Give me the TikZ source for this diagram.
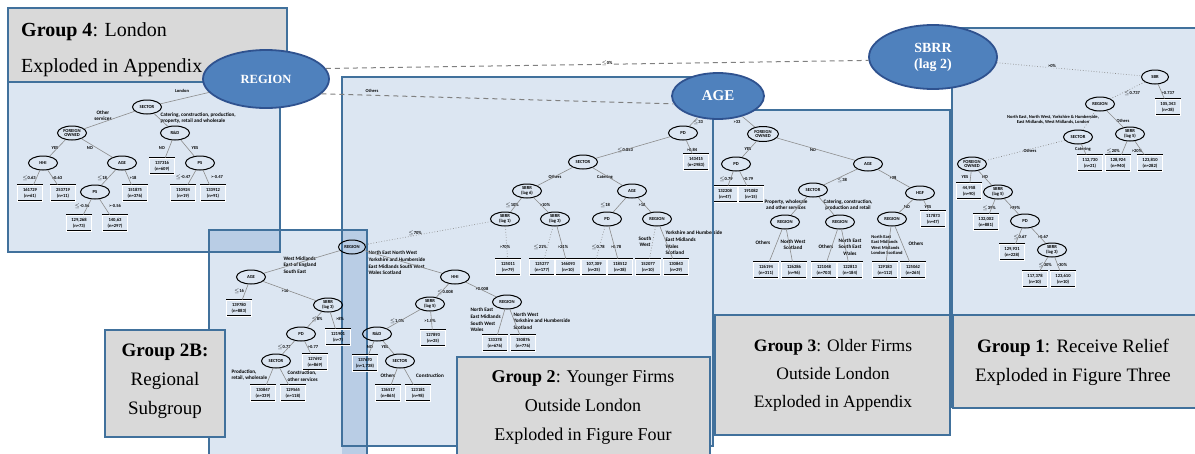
\documentclass[tikz,border=0pt]{standalone}
\usepackage{fontspec}
\setmainfont{Liberation Serif}
\newfontfamily\smf{Carlito}
\usetikzlibrary{shapes.geometric}
\definecolor{panelfill}{HTML}{DCE6F2}
\definecolor{overfill}{HTML}{B9CDE5}
\definecolor{panelline}{HTML}{41719C}
\definecolor{headfill}{HTML}{D9D9D9}
\definecolor{bigfill}{HTML}{4F81BD}
\definecolor{bigline}{HTML}{2F528F}
\definecolor{edgecol}{HTML}{8C8C8C}
\tikzset{
 pborder/.style={draw=panelline, line width=1.1pt},
 head/.style={fill=headfill, draw=panelline, line width=1.1pt},
 headtxt/.style={align=center, inner sep=0pt},
 ell/.style={ellipse, draw=black, line width=1pt, inner sep=0pt, minimum width=29pt, minimum height=14pt, align=center, font=\smf\bfseries\fontsize{4.6}{4.9}\selectfont},
 bx/.style={draw=black, double=white, double distance=0.5pt, line width=0.6pt, inner sep=0.6pt, minimum width=25pt, minimum height=16pt, align=center, font=\smf\bfseries\fontsize{4.6}{5.8}\selectfont},
 lab/.style={inner sep=0.3pt, align=center, font=\smf\bfseries\fontsize{5.2}{6.2}\selectfont},
 labl/.style={inner sep=0.3pt, align=left, anchor=west, font=\smf\bfseries\fontsize{5.2}{6.6}\selectfont},
 labsm/.style={inner sep=0.3pt, align=center, font=\smf\bfseries\fontsize{4.5}{5.2}\selectfont},
 edge/.style={draw=edgecol, line width=0.6pt},
 dedge/.style={draw=edgecol, line width=0.7pt, dotted},
 big/.style={ellipse, fill=bigfill, draw=bigline, line width=1.8pt, text=white, align=center, font=\bfseries},
 bigdash/.style={draw=gray, line width=1pt, dash pattern=on 5pt off 4pt},
}
\newcommand\mylab[3]{\node[lab] (#1) at (#2) {#3};}
\newcommand\mysm[3]{\node[labsm] (#1) at (#2) {#3};}
\newcommand\myedge[2]{\draw[edge] (#1) -- (#2);}
\begin{document}
\begin{tikzpicture}[x=1pt,y=-1pt]
\useasboundingbox (0,0) rectangle (1195,453);
% panels
\fill[panelfill] (8,82) rectangle (280,252);
\fill[panelfill] (209,230) rectangle (367,460);
\fill[panelfill] (342,77) rectangle (713,446);
\fill[panelfill] (713,110) rectangle (950,315);
\fill[panelfill] (952,28) rectangle (1200,315);
\fill[overfill] (209,230) rectangle (280,252);
\fill[overfill] (342,230) rectangle (367,460);
\draw[pborder] (8,82) rectangle (280,252);
\draw[pborder] (209,230) rectangle (367,460);
\draw[pborder] (342,77) rectangle (713,446);
\draw[pborder] (713,110) rectangle (950,315);
\draw[pborder] (952,28) rectangle (1200,315);

% ===== Group 4 tree =====
\node[ell] (g4sec) at (147,107) {SECTOR};
\node[ell] (g4for) at (72,133) {FOREIGN\\OWNED};
\node[ell] (g4rd) at (175,133) {R\&D};
\node[ell] (g4hhi) at (43,163) {HHI};
\node[ell] (g4age) at (122,163) {AGE};
\node[bx] (g4b1) at (162,166) {137316\\(n=609)};
\node[ell] (g4ps2) at (200,163) {PS};
\node[bx] (g4b2) at (30,193) {161729\\(n=61)};
\node[bx] (g4b3) at (63,193) {253719\\(n=11)};
\node[ell] (g4ps) at (95,192) {PS};
\node[bx] (g4b4) at (135,193) {151875\\(n=376)};
\node[bx] (g4b5) at (183,193) {110924\\(n=19)};
\node[bx] (g4b6) at (213,193) {133912\\(n=91)};
\node[bx] (g4b7) at (79,223) {129,268\\(n=73)};
\node[bx] (g4b8) at (115,223) {140,63\\(n=297)};
\mysm{l401}{182,91}{London}
\mylab{l402}{103,116}{Other\\services}
\node[labl] (l403) at (160,118) {Catering, construction, production,\\property, retail and wholesale};
\mysm{l404}{55,148}{YES}
\mysm{l405}{90,148}{NO}
\mysm{l406}{162,148}{NO}
\mysm{l407}{195,148}{YES}
\mysm{l408}{29,178}{$\le$0.63}
\mysm{l409}{57,178}{>0.63}
\mysm{l410}{102,178}{$\le$18}
\mysm{l411}{133,178}{>18}
\mysm{l412}{183,177}{$\le$-0.47}
\mysm{l413}{217,177}{>-0.47}
\mysm{l414}{82,206}{$\le$-0.56}
\mysm{l415}{115,206}{>-0.56}
\myedge{g4sec}{g4for}
\myedge{g4sec}{g4rd}
\myedge{g4for}{g4hhi}
\myedge{g4for}{g4age}
\myedge{g4hhi}{g4b2}
\myedge{g4hhi}{g4b3}
\myedge{g4age}{g4ps}
\myedge{g4age}{g4b4}
\myedge{g4ps}{g4b7}
\myedge{g4ps}{g4b8}
\myedge{g4rd}{g4b1}
\myedge{g4rd}{g4ps2}
\myedge{g4ps2}{g4b5}
\myedge{g4ps2}{g4b6}

% ===== Middle tree (Group 2) =====
\node[ell] (mpd) at (683,133) {PD};
\node[bx] (mb1) at (696,162) {143415\\(n=2983)};
\node[ell] (msec) at (583,162) {SECTOR};
\node[ell] (ms6) at (527,191) {SBRR\\(lag 6)};
\node[ell] (mage) at (632,191) {AGE};
\node[ell] (ms1) at (505,219) {SBRR\\(lag 1)};
\node[ell] (ms3) at (555,219) {SBRR\\(lag 3)};
\node[ell] (mpd2) at (607,219) {PD};
\node[ell] (mreg2) at (657,219) {REGION};
\node[bx] (mb2) at (508,267) {125011\\(n=79)};
\node[bx] (mb3) at (542,267) {125277\\(n=177)};
\node[bx] (mb4) at (568,267) {146093\\(n=10)};
\node[bx] (mb5) at (594,267) {107,309\\(n=25)};
\node[bx] (mb6) at (620,267) {118512\\(n=38)};
\node[bx] (mb7) at (648,267) {152077\\(n=10)};
\node[bx] (mb8) at (676,267) {130843\\(n=29)};
\node[ell, minimum width=27pt] (mreg) at (352,247) {REGION};
\node[ell] (mhhi) at (455,277) {HHI};
\node[ell] (ms5) at (430,304) {SBRR\\(lag 5)};
\node[ell] (mreg3) at (507,302) {REGION};
\node[bx] (mb9) at (495,343) {133378\\(n=676)};
\node[bx] (mb10) at (523,343) {150876\\(n=776)};
\node[bx] (mb11) at (433,338) {127893\\(n=25)};
\node[ell] (mrd) at (377,334) {R\&D};
\node[bx] (mb12) at (365,363) {137670\\(n=1,738)};
\node[ell] (msec2) at (400,361) {SECTOR};
\node[bx] (mb13) at (388,393) {136517\\(n=865)};
\node[bx] (mb14) at (418,393) {123181\\(n=98)};
\mysm{lm01}{698,122}{$\le$33}
\mysm{lm02}{625,150}{$\le$0.853}
\mysm{lm03}{692,150}{>0.84}
\mysm{lm04}{555,177}{Others}
\mysm{lm05}{605,177}{Catering}
\mysm{lm06}{512,205}{$\le$10\%}
\mysm{lm07}{545,205}{>10\%}
\mysm{lm08}{605,205}{$\le$18}
\mysm{lm09}{642,205}{>18}
\mysm{lm10}{415,233}{$\le$70\%}
\mysm{lm11}{505,247}{>70\%}
\mysm{lm12}{540,247}{$\le$21\%}
\mysm{lm13}{563,247}{>21\%}
\mysm{lm14}{598,247}{$\le$0.78}
\mysm{lm15}{616,247}{>0.78}
\mylab{lm16}{645,242}{South\\West}
\node[labl] (lm17) at (665,243) {Yorkshire and Humberside\\East Midlands\\Wales\\Scotland};
\node[labl] (lm18) at (283,265) {West Midlands\\East of England\\South East};
\node[labl] (lm19) at (368,263) {North East North West\\Yorkshire and Humberside\\East Midlands South West\\Wales Scotland};
\mysm{lm20}{445,292}{$\le$0.008}
\mysm{lm21}{482,289}{>0.008}
\node[labl] (lm22) at (470,320) {North East\\East Midlands\\South West\\Wales};
\node[labl] (lm23) at (513,321) {North West\\Yorkshire and Humberside\\Scotland};
\mysm{lm24}{397,321}{$\le$1.0\%}
\mysm{lm25}{430,321}{>1.0\%}
\mysm{lm26}{370,347}{NO}
\mysm{lm27}{385,347}{YES}
\mylab{lm28}{388,376}{Others}
\mylab{lm29}{430,376}{Construction}
\myedge{mpd}{msec}
\myedge{mpd}{mb1}
\myedge{msec}{ms6}
\myedge{msec}{mage}
\myedge{ms6}{ms1}
\myedge{ms6}{ms3}
\draw[dedge] (ms1) -- (mreg);
\draw[dedge] (ms1) -- (mb2);
\draw[dedge] (ms3) -- (mb3);
\myedge{ms3}{mb4}
\myedge{mage}{mpd2}
\myedge{mage}{mreg2}
\draw[dedge] (mpd2) -- (mb5);
\myedge{mpd2}{mb6}
\draw[dedge] (mreg2) -- (mb7);
\myedge{mreg2}{mb8}
\myedge{mreg}{mhhi}
\myedge{mhhi}{ms5}
\myedge{mhhi}{mreg3}
\myedge{ms5}{mrd}
\myedge{ms5}{mb11}
\myedge{mrd}{mb12}
\myedge{mrd}{msec2}
\myedge{msec2}{mb13}
\myedge{msec2}{mb14}
\myedge{mreg3}{mb9}
\myedge{mreg3}{mb10}

% ===== Group 2B tree =====
\node[ell] (gbage) at (251,277) {AGE};
\node[bx] (gbb1) at (239,308) {139780\\(n=883)};
\node[ell] (gbs3) at (328,305) {SBRR\\(lag 3)};
\node[ell] (gbpd) at (301,334) {PD};
\node[bx] (gbb2) at (338,337) {121901\\(n=7)};
\node[ell] (gbsec) at (276,361) {SECTOR};
\node[bx] (gbb3) at (315,362) {127692\\(n=869)};
\node[bx] (gbb4) at (263,393) {130847\\(n=339)};
\node[bx] (gbb5) at (293,393) {129565\\(n=118)};
\mysm{lb01}{239,291}{$\le$16}
\mysm{lb02}{285,291}{>16}
\mysm{lb03}{317,319}{$\le$8\%}
\mysm{lb04}{340,319}{>8\%}
\mysm{lb05}{284,347}{$\le$0.77}
\mysm{lb06}{313,347}{>0.77}
\node[labl] (lb07) at (231,375) {Production,\\retail, wholesale};
\node[labl] (lb08) at (287,376) {Construction,\\other services};
\myedge{mreg}{gbage}
\myedge{gbage}{gbb1}
\myedge{gbage}{gbs3}
\myedge{gbs3}{gbpd}
\myedge{gbs3}{gbb2}
\myedge{gbpd}{gbsec}
\myedge{gbpd}{gbb3}
\myedge{gbsec}{gbb4}
\myedge{gbsec}{gbb5}

% ===== Group 3 tree =====
\node[ell, minimum width=31pt, minimum height=15pt] (g3for) at (763,134) {FOREIGN\\OWNED};
\node[ell] (g3pd) at (736,164) {PD};
\node[ell] (g3age) at (868,164) {AGE};
\node[bx] (g3b1) at (725,194) {132208\\(n=47)};
\node[bx] (g3b2) at (751,194) {191082\\(n=15)};
\node[ell] (g3sec) at (813,190) {SECTOR};
\node[ell] (g3hgf) at (920,193) {HGF};
\node[bx] (g3b3) at (933,219) {117873\\(n=47)};
\node[ell] (g3ra) at (785,222) {REGION};
\node[ell] (g3rb) at (840,222) {REGION};
\node[ell] (g3rc) at (892,219) {REGION};
\node[bx] (g3b4) at (766,270) {126194\\(n=311)};
\node[bx] (g3b5) at (794,270) {126286\\(n=96)};
\node[bx] (g3b6) at (824,270) {121048\\(n=703)};
\node[bx] (g3b7) at (850,270) {122813\\(n=184)};
\node[bx] (g3b8) at (885,270) {129183\\(n=112)};
\node[bx] (g3b9) at (913,270) {125062\\(n=265)};
\mysm{l301}{737,122}{>33}
\mysm{l302}{748,149}{YES}
\mysm{l303}{813,150}{NO}
\mysm{l304}{726,179}{$\le$0.79}
\mysm{l305}{748,179}{>0.79}
\mysm{l306}{842,180}{$\le$38}
\mysm{l307}{893,178}{>38}
\mylab{l308}{786,205}{Property, wholesale\\and other services}
\mylab{l309}{848,205}{Catering, construction,\\production and retail}
\mysm{l310}{907,207}{NO}
\mysm{l311}{928,207}{YES}
\mylab{l312}{763,243}{Others}
\mylab{l313}{793,245}{North West\\Scotland}
\mylab{l314}{826,247}{Others}
\mylab{l315}{850,247}{North East\\South East\\Wales}
\node[labsm, align=left] (l316) at (887,245) {North East\\East Midlands\\West Midlands\\London Scotland};
\mylab{l317}{916,244}{Others}
\myedge{g3for}{g3pd}
\myedge{g3for}{g3age}
\myedge{g3pd}{g3b1}
\myedge{g3pd}{g3b2}
\myedge{g3age}{g3sec}
\myedge{g3age}{g3hgf}
\myedge{g3sec}{g3ra}
\myedge{g3sec}{g3rb}
\myedge{g3ra}{g3b4}
\myedge{g3ra}{g3b5}
\myedge{g3rb}{g3b6}
\myedge{g3rb}{g3b7}
\myedge{g3hgf}{g3rc}
\myedge{g3hgf}{g3b3}
\myedge{g3rc}{g3b8}
\myedge{g3rc}{g3b9}

% ===== Group 1 tree =====
\node[ell, minimum width=27pt] (g1sbr) at (1155,77) {SBR};
\node[bx] (g1b1) at (1168,107) {105,343\\(n=38)};
\node[ell] (g1reg) at (1100,104) {REGION};
\node[ell] (g1sec) at (1078,137) {SECTOR};
\node[ell] (g1s5) at (1130,134) {SBRR\\(lag 5)};
\node[bx] (g1b2) at (1090,163) {112,730\\(n=21)};
\node[bx] (g1b3) at (1118,163) {128,924\\(n=940)};
\node[bx] (g1b4) at (1150,163) {123,810\\(n=282)};
\node[ell] (g1for) at (972,164) {FOREIGN\\OWNED};
\node[bx] (g1b5) at (969,191) {44,958\\(n=90)};
\node[ell] (g1s5b) at (998,192) {SBRR\\(lag 5)};
\node[bx] (g1b6) at (986,222) {132,002\\(n=881)};
\node[ell] (g1pd) at (1025,221) {PD};
\node[bx] (g1b7) at (1012,252) {129,931\\(n=228)};
\node[ell] (g1s3) at (1052,250) {SBRR\\(lag 3)};
\node[bx] (g1b8) at (1035,279) {117,378\\(n=10)};
\node[bx] (g1b9) at (1063,279) {123,610\\(n=10)};
\mysm{l101}{1132,93}{$\le$0.737}
\mysm{l102}{1168,93}{>0.737}
\mysm{l103}{1053,120}{North East, North West, Yorkshire \& Humberside,\\East Midlands, West Midlands, London}
\mysm{l104}{1123,121}{Others}
\mysm{l105}{1030,151}{Others}
\mysm{l106}{1083,149}{Catering}
\mysm{l107}{1113,151}{$\le$20\%}
\mysm{l108}{1137,151}{>20\%}
\mysm{l109}{965,177}{YES}
\mysm{l110}{985,177}{NO}
\mysm{l111}{989,208}{$\le$39\%}
\mysm{l112}{1015,208}{>39\%}
\mysm{l113}{1020,237}{$\le$0.67}
\mysm{l114}{1043,237}{>0.67}
\mysm{l115}{1045,265}{$\le$30\%}
\mysm{l116}{1062,265}{>30\%}
\draw[dedge] (g1sbr) -- (g1reg);
\myedge{g1sbr}{g1b1}
\draw[dedge] (g1reg) -- (g1sec);
\myedge{g1reg}{g1s5}
\draw[dedge] (g1sec) -- (g1for);
\myedge{g1sec}{g1b2}
\myedge{g1s5}{g1b3}
\myedge{g1s5}{g1b4}
\myedge{g1for}{g1b5}
\myedge{g1for}{g1s5b}
\myedge{g1s5b}{g1b6}
\myedge{g1s5b}{g1pd}
\myedge{g1pd}{g1b7}
\myedge{g1pd}{g1s3}
\myedge{g1s3}{g1b8}
\myedge{g1s3}{g1b9}

% ===== headers =====
\draw[head] (8,8) rectangle (287,82);
\node[inner sep=0pt, align=left, anchor=west, font=\fontsize{20}{36}\selectfont] (h4) at (21,50) {\textbf{Group 4}: London\\Exploded in Appendix};
\draw[head] (105,330) rectangle (225,437);
\node[headtxt, font=\fontsize{19}{29}\selectfont] (h2b) at (165,381) {\textbf{Group 2B:}\\Regional\\Subgroup};
\draw[head] (457,357) rectangle (710,462);
\node[headtxt, font=\fontsize{18}{29}\selectfont] (h2) at (583,407) {\textbf{Group 2}: Younger Firms\\Outside London\\Exploded in Figure Four};
\draw[head] (715,315) rectangle (950,435);
\node[headtxt, font=\fontsize{17.5}{28}\selectfont] (h3) at (833,375) {\textbf{Group 3}: Older Firms\\Outside London\\Exploded in Appendix};
\draw[head] (953,315) rectangle (1200,408);
\node[headtxt, font=\fontsize{19}{29}\selectfont] (h1) at (1073,362) {\textbf{Group 1}: Receive Relief\\Exploded in Figure Three};
% thick borders
\draw[panelline, line width=2.4pt] (713,108) -- (713,442);
\draw[panelline, line width=1.8pt] (952,28) -- (952,408);

% ===== top level =====
\node[big, minimum width=126pt, minimum height=58pt, font=\bfseries\fontsize{12.5}{14}\selectfont] (bigreg) at (266,79) {REGION};
\node[big, minimum width=92pt, minimum height=46pt, font=\bfseries\fontsize{15}{16}\selectfont] (bigage) at (718,96) {AGE};
\node[big, minimum width=128pt, minimum height=64pt, font=\bfseries\fontsize{14}{16}\selectfont] (bigsbrr) at (933,57) {SBRR\\(lag 2)};
\draw[bigdash] (bigreg.10) -- (bigsbrr.183);
\draw[bigdash] (bigreg.-15) -- (bigage.190);
\node[labsm, fill=white] (t1) at (607,63) {$\le$0\%};
\node[labsm, fill=panelfill] (t2) at (372,91) {Others};
\draw[dedge] (bigsbrr) -- (g1sbr);
\node[labsm, fill=panelfill] (t3) at (1052,66) {>0\%};
\myedge{bigreg}{g4sec}
\myedge{bigage}{mpd}
\myedge{bigage}{g3for}
\end{tikzpicture}
\end{document}
